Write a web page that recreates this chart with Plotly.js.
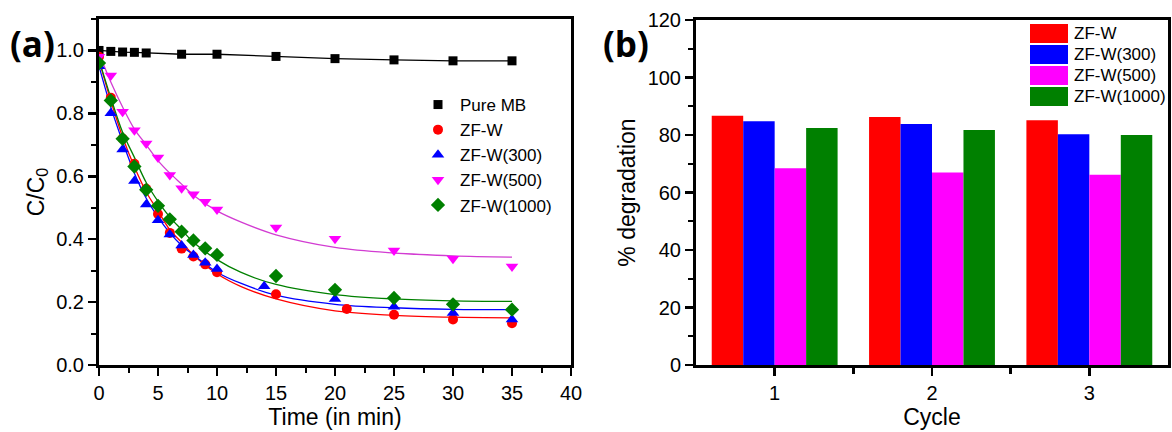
<!DOCTYPE html>
<html>
<head>
<meta charset="utf-8">
<script src="https://cdn.plot.ly/plotly-3.0.1.min.js"></script>
<style>html,body{margin:0;padding:0;background:#fff;}#chart{width:1172px;height:432px;}</style>
</head>
<body>
<div id="chart"></div>
<script>
// ---- Panel (a): C/C0 vs time ----
const pureX = [0, 1, 2, 3, 4, 7, 10, 15, 20, 25, 30, 35];
const pureY = [1.0, 0.997, 0.995, 0.994, 0.992, 0.988, 0.988, 0.981, 0.974, 0.970, 0.967, 0.967];

const zfwX = [0, 1, 2, 3, 4, 5, 6, 7, 8, 9, 10, 15, 21, 25, 30, 35];
const zfwY = [0.98, 0.85, 0.72, 0.64, 0.56, 0.48, 0.42, 0.37, 0.345, 0.32, 0.295, 0.225, 0.178, 0.16, 0.145, 0.133];

const zf300X = [0, 1, 2, 3, 4, 5, 6, 7, 8, 9, 10, 14, 20, 25, 30, 35];
const zf300Y = [0.95, 0.80, 0.685, 0.585, 0.51, 0.46, 0.415, 0.38, 0.35, 0.325, 0.305, 0.25, 0.21, 0.185, 0.165, 0.145];

const zf500X = [0, 1, 2, 3, 4, 5, 6, 7, 8, 9, 10, 15, 20, 25, 30, 35];
const zf500Y = [0.98, 0.92, 0.805, 0.746, 0.704, 0.66, 0.604, 0.562, 0.543, 0.519, 0.494, 0.437, 0.401, 0.364, 0.338, 0.313];

const zf1000X = [0, 1, 2, 3, 4, 5, 6, 7, 8, 9, 10, 15, 20, 25, 30, 35];
const zf1000Y = [0.96, 0.841, 0.719, 0.631, 0.557, 0.506, 0.463, 0.424, 0.396, 0.371, 0.35, 0.283, 0.239, 0.213, 0.193, 0.176];

// fitted curves at sample times
const fitX = [0, 1, 2, 3, 4, 5, 6, 7, 8, 10, 12, 15, 20, 25, 30, 35];
const fitZfw   = [0.97, 0.84, 0.725, 0.63, 0.55, 0.49, 0.43, 0.39, 0.35, 0.29, 0.25, 0.21, 0.172, 0.158, 0.152, 0.15];
const fit300   = [0.95, 0.82, 0.71, 0.61, 0.53, 0.47, 0.42, 0.38, 0.35, 0.295, 0.26, 0.222, 0.193, 0.182, 0.177, 0.176];
const fit500   = [0.99, 0.90, 0.82, 0.75, 0.70, 0.65, 0.61, 0.575, 0.54, 0.49, 0.455, 0.414, 0.374, 0.356, 0.347, 0.343];
const fit1000  = [0.97, 0.85, 0.74, 0.66, 0.58, 0.52, 0.47, 0.43, 0.39, 0.335, 0.295, 0.256, 0.224, 0.21, 0.204, 0.202];

// ---- Panel (b): % degradation per cycle ----
const cycles = [1, 2, 3];
const degZfw  = [86.7, 86.3, 85.1];
const deg300  = [84.8, 83.8, 80.3];
const deg500  = [68.4, 67.0, 66.2];
const deg1000 = [82.4, 81.7, 80.0];
const barNames = ['ZF-W', 'ZF-W(300)', 'ZF-W(500)', 'ZF-W(1000)'];

const RED = '#ff0000', BLUE = '#0000ff', MAG = '#ff00ff', GRN = '#008000';
const FONT = 'Liberation Sans, Arial, sans-serif';

const W = 1172, H = 432;
const px = v => v / W, py = v => (H - v) / H;

const traces = [];
// lines first (behind markers)
traces.push({x: pureX, y: pureY, mode: 'lines', line: {color: '#000', width: 1.3}, showlegend: false, hoverinfo: 'skip'});
traces.push({x: fitX, y: fitZfw, mode: 'lines', line: {color: RED, width: 1.3, shape: 'spline'}, showlegend: false});
traces.push({x: fitX, y: fit300, mode: 'lines', line: {color: BLUE, width: 1.3, shape: 'spline'}, showlegend: false});
traces.push({x: fitX, y: fit500, mode: 'lines', line: {color: '#d23cd2', width: 1.3, shape: 'spline'}, showlegend: false});
traces.push({x: fitX, y: fit1000, mode: 'lines', line: {color: GRN, width: 1.3, shape: 'spline'}, showlegend: false});
// markers
traces.push({x: pureX, y: pureY, mode: 'markers', name: 'Pure MB', marker: {symbol: 'square', size: 9, color: '#000'}});
traces.push({x: zfwX, y: zfwY, mode: 'markers', name: 'ZF-W', marker: {symbol: 'circle', size: 10, color: RED}});
traces.push({x: zf300X, y: zf300Y, mode: 'markers', name: 'ZF-W(300)', marker: {symbol: 'triangle-up', size: 11, color: BLUE}});
traces.push({x: zf500X, y: zf500Y, mode: 'markers', name: 'ZF-W(500)', marker: {symbol: 'triangle-down', size: 11, color: MAG}});
traces.push({x: zf1000X, y: zf1000Y, mode: 'markers', name: 'ZF-W(1000)', marker: {symbol: 'diamond', size: 11, color: GRN}});

const barData = [degZfw, deg300, deg500, deg1000];
const barColors = [RED, BLUE, MAG, GRN];
barData.forEach((d, i) => {
  traces.push({type: 'bar', x: cycles, y: d, name: barNames[i], xaxis: 'x2', yaxis: 'y2',
    marker: {color: barColors[i], line: {width: 0}}, showlegend: false});
});

const axBase = {
  showline: true, linecolor: '#000', linewidth: 3, mirror: true,
  ticks: 'outside', ticklen: 8, tickwidth: 2.5, tickcolor: '#000',
  showgrid: false, zeroline: false,
  tickfont: {family: FONT, size: 20, color: '#000'}
};

const shapes = [], annotations = [];
// custom legend for bar panel
const rowTop = [24, 45, 66, 87];
rowTop.forEach((t, i) => {
  shapes.push({type: 'rect', xref: 'paper', yref: 'paper', x0: px(1030), x1: px(1068), y0: py(t + 19), y1: py(t),
    fillcolor: barColors[i], line: {width: 0}});
  annotations.push({xref: 'paper', yref: 'paper', x: px(1072), y: py(t + 9.5), xanchor: 'left', yanchor: 'middle',
    text: barNames[i], showarrow: false, font: {family: FONT, size: 17, color: '#000'}});
});
annotations.push({xref: 'paper', yref: 'paper', x: px(32), y: py(43), xanchor: 'center', yanchor: 'middle',
  text: '<b>(a)</b>', showarrow: false, font: {family: 'Open Sans, sans-serif', size: 35, color: '#000'}});
annotations.push({xref: 'paper', yref: 'paper', x: px(626), y: py(43), xanchor: 'center', yanchor: 'middle',
  text: '<b>(b)</b>', showarrow: false, font: {family: 'Open Sans, sans-serif', size: 35, color: '#000'}});

const layout = {
  width: W, height: H,
  margin: {l: 0, r: 0, t: 0, b: 0},
  paper_bgcolor: '#fff', plot_bgcolor: '#fff',
  font: {family: FONT, color: '#000'},
  barmode: 'group', bargap: 0.2, bargroupgap: 0,
  xaxis: Object.assign({}, axBase, {
    domain: [px(99), px(571)], range: [0, 40], dtick: 5, tick0: 0, anchor: 'y',
    minor: {dtick: 2.5, ticklen: 5, tickwidth: 2, ticks: 'outside', tickcolor: '#000'},
    title: {text: 'Time (in min)', font: {family: FONT, size: 23, color: '#000'}, standoff: 2}
  }),
  yaxis: Object.assign({}, axBase, {
    domain: [(H - 365) / H, (H - 19) / H], range: [0, 1.1], dtick: 0.2, tick0: 0, tickformat: '.1f', anchor: 'x',
    minor: {dtick: 0.1, ticklen: 5, tickwidth: 2, ticks: 'outside', tickcolor: '#000'},
    title: {text: 'C/C<sub>0</sub>', font: {family: FONT, size: 23, color: '#000'}, standoff: 6}
  }),
  xaxis2: Object.assign({}, axBase, {
    domain: [px(696), px(1168)], range: [0.5, 3.5], tickmode: 'array', tickvals: cycles, anchor: 'y2',
    minor: {tickmode: 'array', tickvals: [1.5, 2.5], ticklen: 6, tickwidth: 2.5, ticks: 'outside', tickcolor: '#000'},
    title: {text: 'Cycle', font: {family: FONT, size: 23, color: '#000'}, standoff: 2}
  }),
  yaxis2: Object.assign({}, axBase, {
    domain: [(H - 365) / H, (H - 20) / H], range: [0, 120], dtick: 20, tick0: 0, anchor: 'x2',
    minor: {dtick: 10, ticklen: 5, tickwidth: 2, ticks: 'outside', tickcolor: '#000'},
    title: {text: '% degradation', font: {family: FONT, size: 23, color: '#000'}, standoff: 6}
  }),
  legend: {x: px(416), y: py(87), xanchor: 'left', yanchor: 'top', bgcolor: 'rgba(0,0,0,0)',
    borderwidth: 0, itemwidth: 34, font: {family: FONT, size: 17, color: '#000'}, tracegroupgap: 0},
  shapes: shapes,
  annotations: annotations
};

Plotly.newPlot('chart', traces, layout, {displayModeBar: false, staticPlot: true});
</script>
</body>
</html>
